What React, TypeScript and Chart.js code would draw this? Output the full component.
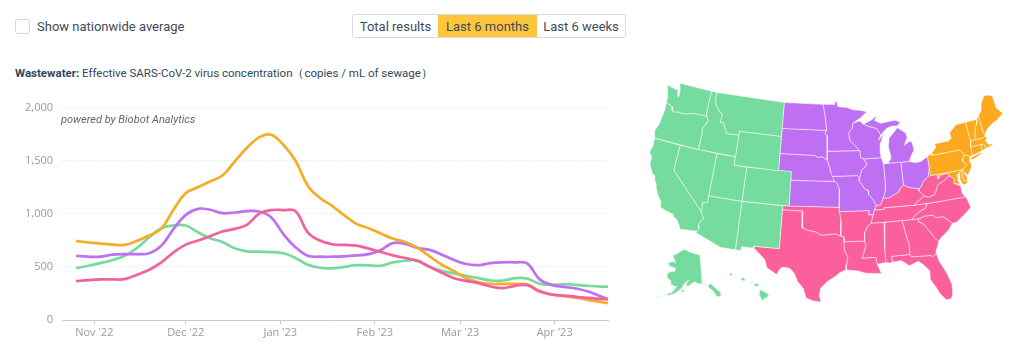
import React, { useEffect, useRef } from "react";
import { Chart, registerables } from "chart.js";

Chart.register(...registerables);

// ---------- line chart data ----------
const days = [-6,-2,2,6,10,14,18,22,26,30,34,38,42,46,50,54,58,62,66,70,74,78,82,86,90,94,98,102,106,110,114,118,122,126,130,134,138,142,146,150,154,158,162,166,168.5];
const northeast = [745,730,720,710,707,745,795,860,1040,1195,1250,1305,1360,1490,1620,1720,1745,1650,1500,1265,1150,1075,985,905,865,815,765,735,680,600,520,460,395,355,340,340,340,335,275,240,225,210,190,170,158];
const midwest = [605,596,596,615,620,620,628,700,858,990,1047,1038,1006,1012,1025,1022,968,810,685,605,596,596,600,608,620,660,725,716,678,660,615,565,527,517,536,543,543,533,385,331,312,297,268,224,196];
const south = [366,375,382,382,385,426,473,543,637,710,748,789,833,858,896,1000,1035,1035,1025,826,748,713,707,700,672,640,608,584,555,501,445,394,369,347,315,300,322,328,268,240,230,218,208,199,196];
const west = [489,511,536,565,605,678,779,864,890,890,826,770,735,675,647,643,640,628,584,520,492,486,501,517,514,511,543,558,561,501,464,438,416,394,372,372,394,391,341,331,338,331,322,315,315];
const tickDays = [0,30,61,92,120,151];
const tickLabels = ["Nov '22","Dec '22","Jan '23","Feb '23","Mar '23","Apr '23"];
const yTicks = [0,500,1000,1500,2000];

const COLORS = { west: "#76DB9E", midwest: "#BF6FF2", south: "#F2609E", northeast: "#F5AC26" };

// ---------- map data, [lon, lat] ----------
type P = number[][];
const WA: P = [[-124.7,48.38],[-123.2,48.15],[-122.75,48.15],[-122.5,47.4],[-122.3,47.4],[-122.4,48.3],[-122.75,49],[-117.03,49],[-117.04,46.43],[-116.92,45.995],[-118.98,45.999],[-119.3,45.93],[-119.6,45.92],[-120.2,45.72],[-121.2,45.65],[-121.7,45.7],[-122.3,45.55],[-122.75,45.65],[-122.8,46.1],[-123.2,46.15],[-123.55,46.25],[-124.05,46.27],[-124.1,46.9],[-124.4,47.5]];
const OR: P = [[-124.05,46.27],[-123.55,46.25],[-123.2,46.15],[-122.8,46.1],[-122.75,45.65],[-122.3,45.55],[-121.7,45.7],[-121.2,45.65],[-120.2,45.72],[-119.6,45.92],[-119.3,45.93],[-118.98,45.999],[-116.92,45.995],[-116.48,45.6],[-116.85,44.95],[-117.22,44.4],[-117.05,44.23],[-117.03,43.8],[-117.03,42],[-124.2,42],[-124.55,42.84],[-124.15,43.7],[-124.05,44.7],[-123.95,45.5]];
const CA: P = [[-124.2,42],[-120,42],[-120,39],[-114.63,35],[-114.57,34.85],[-114.14,34.3],[-114.43,34.05],[-114.72,33.4],[-114.52,33.03],[-114.72,32.72],[-117.12,32.53],[-117.25,32.85],[-117.9,33.6],[-118.4,33.75],[-118.5,34.03],[-119.2,34.15],[-120.5,34.45],[-120.65,35.15],[-121.3,35.7],[-121.9,36.6],[-122,36.95],[-122.5,37.5],[-122.5,37.8],[-123,38],[-123.7,38.9],[-123.8,39.8],[-124.35,40.3],[-124.1,41]];
const NV: P = [[-120,42],[-114.04,42],[-114.04,36.2],[-114.75,36.1],[-114.63,35],[-120,39]];
const ID: P = [[-117.03,49],[-116.05,49],[-116.05,48],[-115.7,47.45],[-114.7,46.7],[-114.35,46.65],[-114.5,45.55],[-113.95,45.7],[-113.45,44.95],[-113,44.45],[-111.5,44.55],[-111.05,44.48],[-111.05,42],[-117.03,42],[-117.03,43.8],[-117.05,44.23],[-117.22,44.4],[-116.85,44.95],[-116.48,45.6],[-116.92,45.995],[-117.04,46.43]];
const MT: P = [[-116.05,49],[-104.05,49],[-104.05,45],[-111.05,45],[-111.05,44.48],[-111.5,44.55],[-113,44.45],[-113.45,44.95],[-113.95,45.7],[-114.5,45.55],[-114.35,46.65],[-114.7,46.7],[-115.7,47.45],[-116.05,48]];
const WY: P = [[-111.05,45],[-104.05,45],[-104.05,41],[-111.05,41]];
const UT: P = [[-114.04,42],[-111.05,42],[-111.05,41],[-109.05,41],[-109.05,37],[-114.04,37]];
const CO: P = [[-109.05,41],[-102.05,41],[-102.05,37],[-109.05,37]];
const AZ: P = [[-114.04,37],[-109.05,37],[-109.05,31.33],[-111.07,31.33],[-114.81,32.5],[-114.72,32.72],[-114.52,33.03],[-114.72,33.4],[-114.43,34.05],[-114.14,34.3],[-114.57,34.85],[-114.63,35],[-114.75,36.1],[-114.04,36.2]];
const NM: P = [[-109.05,37],[-103,37],[-103.04,32],[-106.62,32],[-106.53,31.78],[-108.2,31.78],[-108.2,31.33],[-109.05,31.33]];
const TX: P = [[-106.62,32],[-103.04,32],[-103,36.5],[-100,36.5],[-100,34.56],[-99.2,34.3],[-98.1,34.13],[-97.2,33.75],[-96.5,33.8],[-95.2,33.9],[-94.48,33.64],[-94.04,33.55],[-94.04,33],[-94.04,32],[-93.55,31.2],[-93.75,30.3],[-93.84,29.7],[-94.7,29.4],[-95.4,28.9],[-96.4,28.35],[-97.2,27.6],[-97.4,26.8],[-97.15,25.96],[-98.2,26.07],[-99.1,26.4],[-99.5,27.5],[-100.3,28.3],[-100.8,29.25],[-101.4,29.77],[-102.3,29.88],[-102.7,29.7],[-103.15,28.97],[-104.5,29.65],[-104.9,30.6],[-106.53,31.78]];
const OK: P = [[-103,37],[-94.62,37],[-94.62,36.5],[-94.43,35.4],[-94.48,33.64],[-95.2,33.9],[-96.5,33.8],[-97.2,33.75],[-98.1,34.13],[-99.2,34.3],[-100,34.56],[-100,36.5],[-103,36.5]];
const KS: P = [[-102.05,40],[-95.31,40],[-94.9,39.75],[-94.6,39.1],[-94.62,37],[-102.05,37]];
const NE: P = [[-104.05,43],[-98.5,43],[-97.9,42.8],[-97.2,42.85],[-96.45,42.5],[-96.1,41.7],[-95.85,41],[-95.31,40],[-102.05,40],[-102.05,41],[-104.05,41]];
const SD: P = [[-104.05,45.94],[-96.56,45.94],[-96.85,45.6],[-96.45,45.3],[-96.45,43.5],[-96.45,42.5],[-97.2,42.85],[-97.9,42.8],[-98.5,43],[-104.05,43]];
const ND: P = [[-104.05,49],[-97.23,49],[-96.85,47.6],[-96.56,45.94],[-104.05,45.94]];
const MN: P = [[-97.23,49],[-95.15,49],[-95.15,49.38],[-94.8,49.3],[-94.6,48.72],[-93,48.6],[-92,48.3],[-90.8,48.2],[-89.6,48],[-90.8,47.3],[-92.1,46.75],[-92.3,46.1],[-92.9,45.6],[-92.75,44.75],[-91.2,43.5],[-96.45,43.5],[-96.45,45.3],[-96.85,45.6],[-96.56,45.94],[-96.85,47.6]];
const IA: P = [[-96.45,43.5],[-91.2,43.5],[-91.1,42.7],[-90.65,42.5],[-90.15,41.85],[-91.05,41.2],[-91.42,40.38],[-91.73,40.61],[-95.77,40.58],[-95.85,41],[-96.1,41.7],[-96.45,42.5]];
const MO: P = [[-95.77,40.58],[-91.73,40.61],[-91.42,40.38],[-91.5,40],[-90.7,39],[-90.2,38.8],[-90.2,38.4],[-89.55,37.7],[-89.15,37],[-89.5,36.5],[-89.7,36],[-90.37,36],[-90.2,36.5],[-94.62,36.5],[-94.62,37],[-94.6,39.1],[-94.9,39.75],[-95.31,40]];
const AR: P = [[-94.62,36.5],[-90.2,36.5],[-90.37,36],[-89.7,36],[-90.1,35],[-90.6,34.7],[-91.1,33.9],[-91.15,33],[-94.04,33],[-94.04,33.55],[-94.48,33.64],[-94.43,35.4]];
const LA: P = [[-94.04,33],[-91.15,33],[-91,32.4],[-91.6,31],[-89.75,31],[-89.6,30.2],[-89.4,29.8],[-89.1,29.1],[-90.1,29.15],[-91.2,29.25],[-92.2,29.55],[-93.84,29.7],[-93.75,30.3],[-93.55,31.2],[-94.04,32]];
const MS: P = [[-90.1,35],[-88.2,35],[-88.1,34.9],[-88.45,31.9],[-88.4,30.35],[-89.6,30.2],[-89.75,31],[-91.6,31],[-91,32.4],[-91.15,33],[-91.1,33.9],[-90.6,34.7]];
const AL: P = [[-88.2,35],[-85.6,35],[-85.18,32.87],[-85,32.3],[-85.05,31],[-87.6,31],[-87.5,30.3],[-88,30.25],[-88.4,30.35],[-88.45,31.9],[-88.1,34.9]];
const TN: P = [[-90.1,35],[-89.7,36],[-89.5,36.5],[-88.05,36.5],[-88.05,36.68],[-83.68,36.6],[-81.68,36.59],[-82,36.1],[-83.1,35.75],[-84.3,35],[-85.6,35],[-88.2,35]];
const KY: P = [[-89.5,36.5],[-89.15,37],[-88.5,37.1],[-88.05,37.8],[-87.1,37.8],[-86.3,38.1],[-85.7,38.3],[-85.4,38.7],[-84.8,39.1],[-84.2,38.8],[-83.6,38.65],[-82.6,38.42],[-82.6,38.17],[-81.97,37.54],[-83.68,36.6],[-88.05,36.68],[-88.05,36.5]];
const WV: P = [[-82.6,38.42],[-82.2,38.6],[-81.75,39.2],[-80.85,39.7],[-80.52,40.64],[-80.52,39.72],[-79.48,39.72],[-79.48,39.2],[-78.8,39.6],[-78.4,39.62],[-77.83,39.6],[-77.72,39.32],[-78.35,39],[-78.9,38.8],[-79.65,38.55],[-80.3,37.5],[-81.3,37.3],[-81.97,37.54],[-82.6,38.17]];
const VA: P = [[-83.68,36.6],[-81.97,37.54],[-81.3,37.3],[-80.3,37.5],[-79.65,38.55],[-78.9,38.8],[-78.35,39],[-77.72,39.32],[-77.05,38.85],[-77.3,38.4],[-76.3,37.9],[-76.3,37],[-75.95,36.55],[-81.68,36.59]];
const NC: P = [[-84.3,35],[-83.1,35.75],[-82,36.1],[-81.68,36.59],[-75.87,36.55],[-75.5,35.25],[-76.5,34.65],[-77.9,33.9],[-78.55,33.86],[-79.67,34.8],[-80.8,34.82],[-81.05,35.15],[-82.3,35.2],[-83.1,35]];
const SC: P = [[-83.1,35],[-82.3,35.2],[-81.05,35.15],[-80.8,34.82],[-79.67,34.8],[-78.55,33.86],[-79.2,33.2],[-80.5,32.4],[-80.87,32.03],[-81.4,32.6],[-81.9,33.4],[-82.6,34.3],[-83.35,34.7]];
const GA: P = [[-85.6,35],[-84.3,35],[-83.1,35],[-83.35,34.7],[-82.6,34.3],[-81.9,33.4],[-81.4,32.6],[-80.87,32.03],[-81.3,31.2],[-81.45,30.7],[-82.05,30.36],[-82.2,30.57],[-84.86,30.7],[-85.05,31],[-85,32.3],[-85.18,32.87]];
const FL: P = [[-87.6,31],[-85.05,31],[-84.86,30.7],[-82.2,30.57],[-82.05,30.36],[-81.45,30.7],[-81.25,29.8],[-80.55,28.4],[-80.05,26.9],[-80.15,25.75],[-80.4,25.2],[-81.1,25.15],[-81.75,25.95],[-82.2,26.9],[-82.75,27.8],[-82.65,28.8],[-83.4,29.6],[-84,30.1],[-85.3,29.7],[-86.3,30.4],[-87.5,30.3]];
const IL: P = [[-90.65,42.5],[-87.8,42.5],[-87.55,41.75],[-87.53,39.35],[-87.6,38.7],[-88.05,37.8],[-88.5,37.1],[-89.15,37],[-89.55,37.7],[-90.2,38.4],[-90.2,38.8],[-90.7,39],[-91.5,40],[-91.42,40.38],[-91.05,41.2],[-90.15,41.85]];
const IN: P = [[-87.55,41.75],[-87.2,41.75],[-86.8,41.76],[-84.8,41.76],[-84.8,39.1],[-85.4,38.7],[-85.7,38.3],[-86.3,38.1],[-87.1,37.8],[-88.05,37.8],[-87.6,38.7],[-87.53,39.35]];
const OH: P = [[-84.8,41.72],[-83.45,41.73],[-82.7,41.5],[-81.7,41.5],[-80.52,41.98],[-80.52,40.64],[-80.85,39.7],[-81.75,39.2],[-82.2,38.6],[-82.6,38.42],[-83.6,38.65],[-84.2,38.8],[-84.8,39.1]];
const MI_LOWER: P = [[-86.8,41.76],[-84.8,41.72],[-83.45,41.73],[-83.1,42.25],[-82.45,43],[-82.6,43.9],[-83,44.05],[-83.9,43.65],[-83.3,44.5],[-83.4,45.05],[-84.7,45.78],[-85.5,45.2],[-86.25,44.7],[-86.5,43.7],[-86.25,42.4]];
const MI_UPPER: P = [[-90.4,46.55],[-89,46.95],[-87.9,47.45],[-88.4,46.9],[-87.4,46.5],[-85,46.7],[-84.1,46.4],[-84.7,46],[-85.6,46.05],[-86.6,45.8],[-87.6,45.1],[-88.1,45.9],[-89.1,46.15]];
const WI: P = [[-92.1,46.75],[-90.9,46.95],[-90.4,46.55],[-89.1,46.15],[-88.1,45.9],[-87.6,45.1],[-88,44.55],[-87.1,45.25],[-87.7,44.2],[-87.9,43],[-87.8,42.5],[-90.65,42.5],[-91.1,42.7],[-91.2,43.5],[-92.75,44.75],[-92.9,45.6],[-92.3,46.1]];
const PA: P = [[-80.52,41.98],[-79.76,42.27],[-79.76,42],[-75.35,42],[-74.7,41.35],[-75.1,40.95],[-75.2,40.65],[-74.72,40.15],[-75.4,39.8],[-75.79,39.72],[-80.52,39.72],[-80.52,40.64]];
const NY: P = [[-79.76,42.27],[-78.9,42.9],[-79.05,43.27],[-76.8,43.3],[-76.2,43.55],[-76.3,44.2],[-75,44.98],[-73.35,45.01],[-73.35,43.6],[-73.25,42.75],[-73.5,42.05],[-73.5,41.3],[-73.65,41],[-73.9,41],[-74.7,41.35],[-75.35,42],[-79.76,42]];
const LONG_ISLAND: P = [[-74,40.6],[-73.75,40.85],[-72.3,41.15],[-71.9,41.05],[-73.5,40.6]];
const NJ: P = [[-74.7,41.35],[-73.9,41],[-74.25,40.5],[-74,40.3],[-74.1,39.75],[-74.9,38.95],[-75.55,39.5],[-75.4,39.8],[-74.72,40.15],[-75.2,40.65],[-75.1,40.95]];
const DE: P = [[-75.79,39.72],[-75.4,39.8],[-75.55,39.5],[-75.1,38.8],[-75.05,38.45],[-75.7,38.46]];
const MD: P = [[-79.48,39.72],[-75.79,39.72],[-75.7,38.46],[-75.05,38.45],[-75.25,38.03],[-75.9,37.95],[-76.2,38.6],[-76.05,39.5],[-76.5,39.2],[-76.5,38.5],[-76.3,38.05],[-77,38.3],[-77.3,38.4],[-77.05,38.85],[-77.72,39.32],[-77.83,39.6],[-78.4,39.62],[-78.8,39.6],[-79.48,39.2]];
const CT: P = [[-73.5,42.05],[-71.8,42.02],[-71.85,41.32],[-73.65,41],[-73.5,41.3]];
const RI: P = [[-71.8,42.02],[-71.38,42.02],[-71.15,41.5],[-71.85,41.32]];
const MA: P = [[-73.5,42.05],[-73.25,42.75],[-71.3,42.7],[-70.8,42.87],[-70.6,42.65],[-71,42.3],[-70.55,41.8],[-70.05,41.8],[-70.2,42.07],[-69.95,41.7],[-70.65,41.53],[-71.15,41.5],[-71.38,42.02],[-71.8,42.02]];
const VT: P = [[-73.35,45.01],[-71.5,45.01],[-71.6,44.5],[-72.05,44.1],[-72.45,43],[-72.46,42.73],[-73.25,42.75],[-73.35,43.6]];
const NH: P = [[-71.5,45.01],[-71.08,45.3],[-70.98,43.4],[-70.7,43.07],[-70.8,42.87],[-71.3,42.7],[-72.46,42.73],[-72.45,43],[-72.05,44.1],[-71.6,44.5]];
const ME: P = [[-71.08,45.3],[-70.3,45.9],[-70,46.7],[-69.2,47.45],[-68.3,47.35],[-67.8,47.07],[-67.8,45.7],[-67.45,45.3],[-67,44.85],[-68.2,44.3],[-69,44.1],[-70.2,43.6],[-70.7,43.07],[-70.98,43.4]];
const AK: P = [[-141,69.65],[-141,60.3],[-139,59.6],[-137.5,58.9],[-135.5,59.8],[-133.5,58.4],[-130,55.9],[-130.6,54.8],[-133,55],[-134.5,57],[-136.5,58.2],[-138,59],[-141,60],[-143.8,60],[-146,60.7],[-148,60],[-150,59.2],[-151.9,59.2],[-151,60.8],[-150,61.2],[-152,60.5],[-153.5,59.4],[-154,58.5],[-156.5,57],[-158.5,56],[-161,55.3],[-163,54.8],[-162,55.7],[-160,56.3],[-157.5,58.7],[-159,58.5],[-162,59],[-162,60],[-164.5,60.5],[-166,61.6],[-164.8,62.8],[-161,63.5],[-161,64.5],[-166,64.6],[-168,65.6],[-164,66.5],[-162,66.1],[-163,67],[-166.5,68.3],[-163,69.2],[-160,70.4],[-156.6,71.35],[-152,70.8],[-146,70.1]];
const AK_KODIAK: P = [[-154.6,57.4],[-152.4,58.3],[-152.5,57.5],[-154,56.8]];
const AK_UNIMAK: P = [[-164.8,54.6],[-163.2,55],[-164,54.4]];
const AK_UNALASKA: P = [[-169,53],[-166.5,53.9],[-167,53.3]];
const HI_BIG: P = [[-155.9,20.25],[-155.1,19.85],[-154.8,19.5],[-155.7,18.95],[-156.05,19.7]];
const HI_MAUI: P = [[-156.7,20.95],[-156.25,20.95],[-156,20.75],[-156.4,20.58]];
const HI_MOLOKAI: P = [[-157.3,21.2],[-156.72,21.17],[-156.85,21.05]];
const HI_OAHU: P = [[-158.28,21.55],[-157.97,21.7],[-157.65,21.3],[-158.1,21.3]];
const HI_KAUAI: P = [[-159.78,22.05],[-159.5,22.23],[-159.3,22],[-159.55,21.88]];

const westStates = [WA,OR,CA,NV,ID,MT,WY,UT,CO,AZ,NM];
const midwestStates = [ND,SD,NE,KS,MN,IA,MO,WI,IL,IN,OH,MI_LOWER,MI_UPPER];
const southStates = [TX,OK,AR,LA,MS,AL,TN,KY,WV,VA,NC,SC,GA,FL];
const northeastStates = [PA,NY,LONG_ISLAND,NJ,DE,MD,CT,RI,MA,VT,NH,ME];
const alaskaParts = [AK,AK_KODIAK,AK_UNIMAK,AK_UNALASKA];
const hawaiiParts = [HI_BIG,HI_MAUI,HI_MOLOKAI,HI_OAHU,HI_KAUAI];

// conic equal-area projection
const rad = Math.PI / 180;
function conic(lon0: number, lat0: number, p1: number, p2: number) {
  const n = (Math.sin(p1 * rad) + Math.sin(p2 * rad)) / 2;
  const c = Math.cos(p1 * rad) ** 2 + 2 * n * Math.sin(p1 * rad);
  const r0 = Math.sqrt(c - 2 * n * Math.sin(lat0 * rad)) / n;
  return (lon: number, lat: number) => {
    const t = n * (lon - lon0) * rad;
    const r = Math.sqrt(c - 2 * n * Math.sin(lat * rad)) / n;
    return { X: r * Math.sin(t), Y: r0 - r * Math.cos(t) };
  };
}
const lower48 = conic(-96, 38.7, 29.5, 45.5);
const alaska = conic(-146, 58.5, 55, 65);
const hawaii = conic(-160, 19.9, 8, 18);

const MAP = { left: 640, top: 70, width: 384, height: 250, k: 490, cx: 830, cy: 192.7 };

function polyData(poly: P, proj: (a: number, b: number) => { X: number; Y: number }, s = 1, dx = 0, dy = 0) {
  return [...poly, poly[0]].map(([lon, lat]) => {
    const { X, Y } = proj(lon, lat);
    return { x: X * s + dx, y: Y * s + dy };
  });
}

function polySet(list: P[], color: string, proj = lower48, s = 1, dx = 0, dy = 0) {
  return list.map((poly) => ({
    data: polyData(poly, proj, s, dx, dy),
    showLine: true,
    fill: "shape",
    backgroundColor: color,
    borderColor: "rgba(255,255,255,0.85)",
    borderWidth: 0.6,
    pointRadius: 0,
    tension: 0,
  }));
}

const FONT = "Roboto, sans-serif";
const AXIS_FONT = "'Open Sans', sans-serif";

export default function App() {
  const lineRef = useRef<HTMLCanvasElement>(null);
  const mapRef = useRef<HTMLCanvasElement>(null);

  useEffect(() => {
    const series = [
      { label: "South", data: south, color: COLORS.south },
      { label: "Northeast", data: northeast, color: COLORS.northeast },
      { label: "Midwest", data: midwest, color: COLORS.midwest },
      { label: "West", data: west, color: COLORS.west },
    ];
    const lineChart = new Chart(lineRef.current as HTMLCanvasElement, {
      type: "line",
      data: {
        datasets: series.map((s) => ({
          label: s.label,
          data: s.data.map((y, i) => ({ x: days[i], y })),
          borderColor: s.color,
          backgroundColor: s.color,
          borderWidth: 2.7,
          pointRadius: 0,
          tension: 0.4,
          fill: false,
          clip: false,
        })),
      },
      options: {
        animation: false,
        responsive: false,
        layout: { padding: { top: 4, right: 32, left: 0, bottom: 0 } },
        plugins: { legend: { display: false }, tooltip: { enabled: false } },
        scales: {
          x: {
            type: "linear",
            min: -10.6,
            max: 168.5,
            afterBuildTicks: (a: any) => { a.ticks = tickDays.map((value) => ({ value })); },
            afterFit: (a: any) => { a.height = 26; },
            grid: { drawOnChartArea: false, drawTicks: true, tickLength: 4, tickColor: "#c9c9c9" },
            border: { display: true, color: "#c9c9c9", width: 1 },
            ticks: {
              autoSkip: false,
              maxRotation: 0,
              padding: 2,
              color: "#9a9a9a",
              font: { family: AXIS_FONT, size: 11 },
              callback: (v: any) => tickLabels[tickDays.indexOf(v)] ?? "",
            },
          },
          y: {
            min: 0,
            max: 2000,
            afterBuildTicks: (a: any) => { a.ticks = yTicks.map((value) => ({ value })); },
            afterFit: (a: any) => { a.width = 62; },
            grid: { color: "#e3dfe3", drawTicks: false, lineWidth: 1 },
            border: { display: false, dash: [1, 2] },
            ticks: {
              padding: 9,
              color: "#9a9a9a",
              font: { family: AXIS_FONT, size: 11 },
              callback: (v: any) => Number(v).toLocaleString("en-US"),
            },
          },
        },
      },
    } as any);

    const { left, top, width, height, k, cx, cy } = MAP;
    const mapChart = new Chart(mapRef.current as HTMLCanvasElement, {
      type: "scatter",
      data: {
        datasets: [
          ...polySet(westStates, COLORS.west),
          ...polySet(midwestStates, COLORS.midwest),
          ...polySet(southStates, "#FB5F9C"),
          ...polySet(northeastStates, "#FBA91F"),
          ...polySet(alaskaParts, COLORS.west, alaska, 0.35, -0.276, -0.1953),
          ...polySet(hawaiiParts, COLORS.west, hawaii, 1, -0.21, -0.204),
        ],
      },
      options: {
        animation: false,
        responsive: false,
        layout: { padding: 0 },
        plugins: { legend: { display: false }, tooltip: { enabled: false } },
        scales: {
          x: { type: "linear", display: false, min: (left - cx) / k, max: (left + width - cx) / k },
          y: { type: "linear", display: false, min: (cy - top - height) / k, max: (cy - top) / k },
        },
      },
    } as any);

    return () => {
      lineChart.destroy();
      mapChart.destroy();
    };
  }, []);

  const abs = (l: number, t: number): React.CSSProperties => ({ position: "absolute", left: l, top: t });
  const btn = (active: boolean, w: number): React.CSSProperties => ({
    width: w,
    height: "100%",
    display: "flex",
    alignItems: "center",
    justifyContent: "center",
    background: active ? "#FFC53D" : "transparent",
  });

  return (
    <div style={{ position: "absolute", left: 0, top: 0, width: 1024, height: 356, overflow: "hidden", background: "#fff", fontFamily: FONT }}>
      <div style={{ ...abs(15, 19), width: 13, height: 13, border: "1px solid #d5d9de", borderRadius: 3 }} />
      <div style={{ ...abs(37, 18), fontSize: 13, color: "#3d4b5c", lineHeight: "17px", whiteSpace: "nowrap" }}>Show nationwide average</div>
      <div style={{ ...abs(352, 14), width: 272, height: 22, border: "1px solid #d8dbe0", borderRadius: 3, display: "flex", fontSize: 13, color: "#3d4b5c", whiteSpace: "nowrap" }}>
        <div style={btn(false, 85)}>Total results</div>
        <div style={btn(true, 99)}>Last 6 months</div>
        <div style={btn(false, 88)}>Last 6 weeks</div>
      </div>
      <div style={{ ...abs(15, 66), fontSize: 11.5, color: "#34465c", lineHeight: "15px", whiteSpace: "nowrap" }}>
        <b>Wastewater:</b> Effective SARS-CoV-2 virus concentration（copies / mL of sewage）
      </div>
      <canvas ref={lineRef} width={640} height={254} style={{ ...abs(0, 92), display: "block" }} />
      <div style={{ ...abs(61, 113), fontSize: 11, fontStyle: "italic", color: "#666", lineHeight: "14px", whiteSpace: "nowrap" }}>powered by Biobot Analytics</div>
      <canvas ref={mapRef} width={MAP.width} height={MAP.height} style={{ ...abs(MAP.left, MAP.top), display: "block" }} />
    </div>
  );
}
